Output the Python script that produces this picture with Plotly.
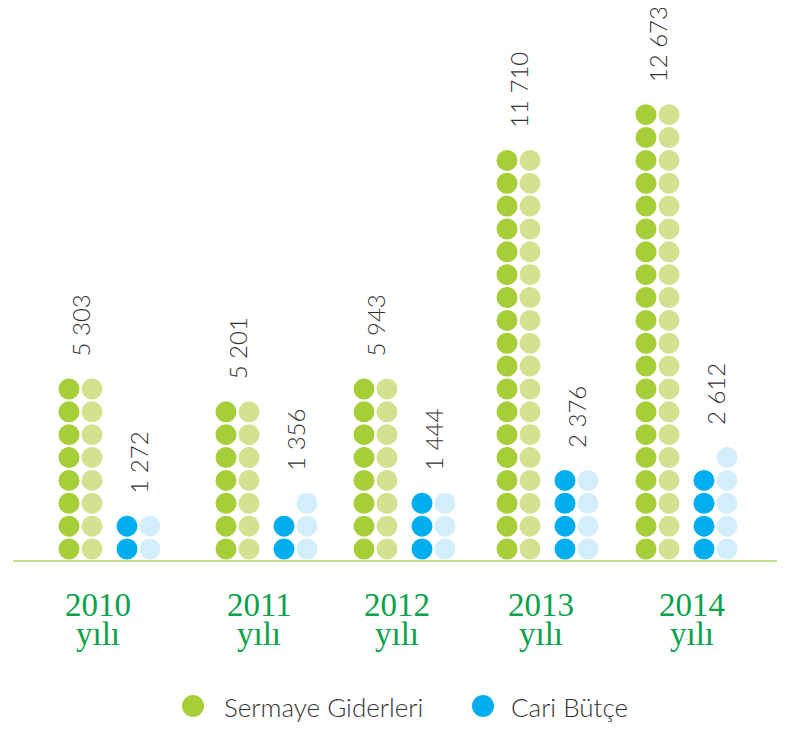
import plotly.graph_objects as go

# ---- data ----
years = ["2010", "2011", "2012", "2013", "2014"]
sermaye_values = [5303, 5201, 5943, 11710, 12673]
cari_values = [1272, 1356, 1444, 2376, 2612]
sermaye_labels = ["5 303", "5 201", "5 943", "11 710", "12 673"]
cari_labels = ["1 272", "1 356", "1 444", "2 376", "2 612"]
# dot counts per column as drawn in the pictogram
sermaye_dark_dots = [8, 7, 8, 18, 20]
sermaye_light_dots = [8, 7, 8, 18, 20]
cari_dark_dots = [2, 2, 3, 4, 4]
cari_light_dots = [2, 3, 3, 4, 5]

# ---- layout constants (screen pixel positions; page body has an 8px margin) ----
PAGE_OFF = 8
W, H = 785 - PAGE_OFF, 730 - PAGE_OFF


def px_x(v):
    return v - PAGE_OFF


def px_y(v):
    return 1 - (v - PAGE_OFF) / H


group_x = [69, 226, 364, 507, 646]          # screen x of first column of each year group
col_off = [0, 23, 58, 81]                   # column offsets inside a group
year_label_x = [98, 259, 397, 541, 692]
row_px = 22.86                               # pixels per row
row0_px = 549 - PAGE_OFF                     # y of first row centre inside figure
ymin = -(H - row0_px) / row_px
ymax = ymin + H / row_px

C_GREEN = "#a6ce39"
C_GREEN_L = "#d3e28f"
C_BLUE = "#00aeef"
C_BLUE_L = "#d2eefb"
C_TEXT = "#333333"
C_YEAR = "#0aa14b"
DOT = 21
SANS = "Lato, sans-serif"
SERIF = "Liberation Serif, serif"

fig = go.Figure()

columns = [
    (sermaye_dark_dots, col_off[0], C_GREEN),
    (sermaye_light_dots, col_off[1], C_GREEN_L),
    (cari_dark_dots, col_off[2], C_BLUE),
    (cari_light_dots, col_off[3], C_BLUE_L),
]
for counts, off, color in columns:
    xs, ys = [], []
    for gx, n in zip(group_x, counts):
        for r in range(n):
            xs.append(px_x(gx + off))
            ys.append(r)
    fig.add_trace(go.Scatter(x=xs, y=ys, mode="markers",
                             marker=dict(size=DOT, color=color, line=dict(width=0)),
                             showlegend=False, hoverinfo="skip"))

annotations = []
val_font = dict(family=SANS, size=24, color=C_TEXT, weight=300)
for i, gx in enumerate(group_x):
    top_g = max(sermaye_dark_dots[i], sermaye_light_dots[i]) - 1
    annotations.append(dict(x=px_x(gx + (col_off[0] + col_off[1]) / 2), y=top_g, xref="x", yref="y",
                            text=sermaye_labels[i], textangle=-90, showarrow=False,
                            yanchor="bottom", xanchor="center", yshift=30, font=val_font))
    top_b = max(cari_dark_dots[i], cari_light_dots[i]) - 1
    annotations.append(dict(x=px_x(gx + (col_off[2] + col_off[3]) / 2), y=top_b, xref="x", yref="y",
                            text=cari_labels[i], textangle=-90, showarrow=False,
                            yanchor="bottom", xanchor="center", yshift=30, font=val_font))
    annotations.append(dict(x=px_x(year_label_x[i]), y=px_y(605), xref="x", yref="paper",
                            text=years[i], showarrow=False, yanchor="middle",
                            font=dict(family=SERIF, size=33, color=C_YEAR)))
    annotations.append(dict(x=px_x(year_label_x[i]), y=px_y(634), xref="x", yref="paper",
                            text="yılı", showarrow=False, yanchor="middle",
                            font=dict(family=SERIF, size=33, color=C_YEAR)))

# legend
leg_font = dict(family=SANS, size=26, color=C_TEXT, weight=300)
annotations.append(dict(x=px_x(222), y=px_y(707), xref="x", yref="paper", text="Sermaye Giderleri",
                        showarrow=False, xanchor="left", yanchor="middle", font=leg_font))
annotations.append(dict(x=px_x(509), y=px_y(707), xref="x", yref="paper", text="Cari Bütçe",
                        showarrow=False, xanchor="left", yanchor="middle", font=leg_font))

shapes = [
    dict(type="line", xref="x", yref="paper", x0=px_x(13), x1=W, y0=px_y(561), y1=px_y(561),
         line=dict(color="#c3de8c", width=2)),
    dict(type="circle", xref="x", yref="paper", x0=px_x(182), x1=px_x(204),
         y0=px_y(717), y1=px_y(695), fillcolor=C_GREEN, line=dict(width=0)),
    dict(type="circle", xref="x", yref="paper", x0=px_x(472), x1=px_x(494),
         y0=px_y(717), y1=px_y(695), fillcolor=C_BLUE, line=dict(width=0)),
]

fig.update_layout(
    width=W, height=H,
    margin=dict(l=0, r=0, t=0, b=0),
    paper_bgcolor="white", plot_bgcolor="white",
    xaxis=dict(range=[0, W], visible=False, fixedrange=True),
    yaxis=dict(range=[ymin, ymax], visible=False, fixedrange=True),
    annotations=annotations, shapes=shapes,
)

fig.write_html("out.html")
